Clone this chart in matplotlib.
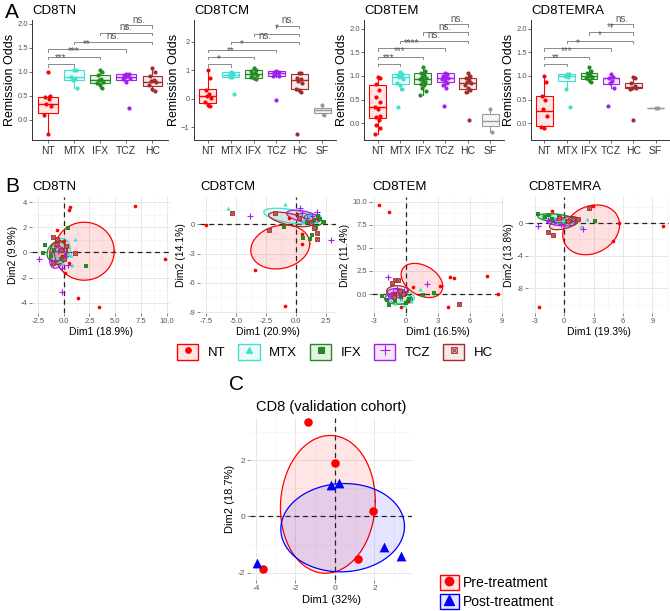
import numpy as np
import matplotlib
matplotlib.use('Agg')
import matplotlib.pyplot as plt
from matplotlib.colors import to_rgba
from matplotlib.patches import Patch
from matplotlib.lines import Line2D
from matplotlib.legend_handler import HandlerTuple
from matplotlib.ticker import MultipleLocator, FormatStrFormatter

plt.rcParams['font.family'] = ['Liberation Sans', 'DejaVu Sans']

COL = {'NT': '#FF0000', 'MTX': '#40E0D0', 'IFX': '#228B22', 'TCZ': '#A020F0',
       'HC': '#A52A2A', 'SF': '#9A9A9A'}

# ---------------- panel A data (lo, q1, med, q3, hi) ----------------
groups5 = ['NT', 'MTX', 'IFX', 'TCZ', 'HC']
groups6 = ['NT', 'MTX', 'IFX', 'TCZ', 'HC', 'SF']
pairs = [(1, 2), (1, 3), (1, 4), (2, 5), (3, 5), (4, 5)]

tn_stats = [(-0.29, 0.15, 0.33, 0.48, 0.5), (0.66, 0.84, 0.89, 1.04, 1.04),
            (0.67, 0.76, 0.83, 0.93, 1.03), (0.78, 0.84, 0.89, 0.96, 0.96),
            (0.6, 0.71, 0.79, 0.92, 1.08)]
tn_points = [[1.0, 0.5, 0.48, 0.44, 0.33, 0.29, 0.1, -0.29],
             [1.04, 1.03, 0.9, 0.85, 0.84, 0.66],
             [1.03, 0.99, 0.93, 0.86, 0.83, 0.79, 0.76, 0.72, 0.67],
             [0.96, 0.95, 0.94, 0.92, 0.9, 0.88, 0.85, 0.78, 0.25],
             [1.08, 1.0, 0.92, 0.84, 0.8, 0.78, 0.72, 0.65, 0.6]]
tn_brk = [1.16, 1.31, 1.47, 1.63, 1.81, 1.97]
tn_lab = ['***', '***', '**', 'ns.', 'ns.', 'ns.']

tcm_stats = [(-0.27, -0.13, 0.12, 0.34, 1.01), (0.76, 0.76, 0.83, 0.94, 0.95),
             (0.69, 0.74, 0.87, 1.01, 1.09), (0.78, 0.8, 0.9, 0.98, 0.98),
             (0.25, 0.34, 0.65, 0.87, 0.92), (-0.56, -0.48, -0.38, -0.3, -0.21)]
tcm_points = [[1.01, 0.72, 0.3, 0.18, 0.12, 0.05, -0.1, -0.2, -0.25],
              [0.95, 0.9, 0.83, 0.78, 0.76, 0.17],
              [1.09, 1.02, 0.97, 0.92, 0.87, 0.83, 0.78, 0.74, 0.7],
              [0.98, 0.96, 0.93, 0.9, 0.88, 0.82, 0.79, -0.04],
              [0.92, 0.9, 0.75, 0.7, 0.63, 0.55, 0.36, 0.3, 0.25, -1.23],
              [-0.21, -0.56]]
tcm_brk = [1.21, 1.48, 1.73, 2.0, 2.29, 2.57]
tcm_lab = ['*', '**', '*', 'ns.', '*', 'ns.']

tem_stats = [(-0.23, 0.11, 0.34, 0.8, 0.98), (0.71, 0.82, 0.97, 1.05, 1.08),
             (0.6, 0.84, 0.93, 1.07, 1.19), (0.74, 0.87, 0.95, 1.06, 1.06),
             (0.64, 0.73, 0.86, 0.96, 1.06), (-0.2, -0.06, 0.05, 0.2, 0.3)]
tem_points = [[0.98, 0.95, 0.84, 0.7, 0.55, 0.45, 0.34, 0.3, 0.15, 0.12, 0.06, -0.05, -0.1, -0.23],
              [1.08, 1.05, 1.02, 0.99, 0.97, 0.93, 0.86, 0.8, 0.72, 0.34],
              [1.19, 1.1, 1.06, 1.02, 0.98, 0.95, 0.93, 0.9, 0.87, 0.84, 0.8, 0.75, 0.68, 0.6],
              [1.06, 1.04, 1.0, 0.98, 0.96, 0.95, 0.93, 0.9, 0.86, 0.8, 0.74, 0.37],
              [1.06, 1.01, 0.96, 0.92, 0.88, 0.85, 0.8, 0.75, 0.7, 0.65, 0.07],
              [0.3, -0.2]]
tem_brk = [1.26, 1.41, 1.59, 1.75, 1.93, 2.1]
tem_lab = ['***', '***', '****', 'ns.', 'ns.', 'ns.']

temra_stats = [(-0.1, -0.07, 0.25, 0.57, 0.99), (0.73, 0.9, 1.0, 1.04, 1.05),
               (0.87, 0.94, 1.0, 1.06, 1.19), (0.75, 0.84, 0.95, 0.96, 1.05),
               (0.72, 0.74, 0.77, 0.86, 0.97), (0.31, 0.31, 0.31, 0.31, 0.31)]
temra_points = [[0.99, 0.88, 0.58, 0.5, 0.3, 0.15, -0.08, -0.1],
                [1.05, 1.04, 1.0, 0.98, 0.73, 0.34],
                [1.19, 1.1, 1.06, 1.03, 1.0, 0.98, 0.95, 0.91, 0.87],
                [1.05, 0.97, 0.95, 0.9, 0.85, 0.75, 0.37],
                [0.97, 0.96, 0.86, 0.78, 0.75, 0.74, 0.72, 0.06],
                [0.31, 0.31]]
temra_brk = [1.26, 1.41, 1.59, 1.75, 1.93, 2.1]
temra_lab = ['**', '***', '*', '*', '**', 'ns.']

# ---------------- panel B data: PCA individuals ----------------
tn_pca = {
    'NT': ([6.9, 9.8, 0.6, 0.55, -0.65, 0.15, 1.39, 3.46, 0.3, -0.2, 0.5, 0.0],
           [3.65, -0.5, 3.6, 3.33, 1.77, -1.6, -3.6, -4.35, 0.5, -0.3, -0.8, 0.9]),
    'MTX': ([1.1, 0.68, 0.8, -0.4, 0.2, -0.8, 0.4, -0.2], [1.07, -0.23, -0.96, 0.3, 0.6, -0.4, -0.2, -0.8]),
    'IFX': ([0.47, 2.13, -1.8, -2.0, -0.9, -0.3, 0.2, -0.6, -1.2], [1.95, -1.09, 0.6, -0.05, 0.2, -0.5, 0.4, 0.8, -0.3]),
    'TCZ': ([-2.35, 0.47, -0.15, -0.8, -0.5, 0.1, -1.0, -0.2], [-0.52, -0.96, -3.1, -0.6, 0.1, -0.3, -0.9, -1.2]),
    'HC': ([-1.06, -0.65, 0.2, 1.14, -0.98, -0.3, 0.0, -0.6], [1.25, 1.05, 0.55, -0.05, -0.83, 0.2, -0.5, 0.7]),
}
tn_ell = {'NT': (2.0, 0.1, 2.9, 2.3, 0.0), 'MTX': (-0.3, 0.1, 0.95, 1.0, 0.2),
          'IFX': (-0.65, 0.05, 0.95, 0.8, 0.2), 'TCZ': (-0.6, -0.4, 0.75, 0.85, 0.3),
          'HC': (-0.5, 0.0, 0.85, 0.95, 0.1)}

tcm_pca = {
    'NT': ([-7.47, -3.4, -0.92, 0.5, 0.44, 0.05, 1.2, 1.7, -0.6], [-0.07, -4.68, -8.43, -2.0, -1.0, 1.02, 0.3, 0.5, 0.6]),
    'MTX': ([-5.7, -0.9, 0.3, 1.0, 1.6, 1.3, 2.0, 0.6], [1.64, 2.08, 1.1, 0.6, 0.3, 1.0, 0.9, 0.4]),
    'IFX': ([0.55, 1.17, 2.28, 1.3, -1.05, 1.8, 1.5, 2.0, 0.9, 1.6], [-1.44, -1.54, 0.2, -1.1, -0.3, 0.8, 0.4, 0.5, 0.2, -0.4]),
    'TCZ': ([-3.83, 0.33, 2.9, 1.72, 0.9, 1.3, 0.5], [0.85, 1.64, -1.6, 1.23, 0.6, 0.9, 1.2]),
    'HC': ([-5.36, -2.25, 1.72, 1.72, -1.75, 1.5, 1.2, 0.2], [1.19, -0.58, -0.92, -1.54, 1.19, -0.4, 0.1, 0.6]),
}
tcm_ell = {'NT': (-1.33, -2.33, 2.45, 2.25, 0.15), 'MTX': (-0.6, 0.85, 2.1, 0.8, -0.5),
           'IFX': (1.4, 0.45, 0.75, 0.6, -0.3), 'TCZ': (0.6, 0.8, 1.4, 0.65, -0.5),
           'HC': (-0.5, 0.5, 1.8, 0.75, -0.6)}

tem_pca = {
    'NT': ([-2.48, -1.6, 4.11, 4.51, 7.59, 8.59, 3.99, 0.62, 3.24, -0.44, -1.0, -0.5, 0.2],
           [9.6, 8.88, 1.87, 1.69, 1.98, 0.0, -1.37, 0.72, 0.86, -1.44, 0.1, -0.4, -0.8]),
    'MTX': ([1.3, 2.6, -0.5, -1.0, 0.2, -0.2, 0.5, -1.3], [0.6, 0.14, -0.5, -1.0, -0.3, -1.2, -0.7, -0.2]),
    'IFX': ([2.65, 1.6, -2.2, -1.56, -1.0, -0.5, 0.3, -1.8, 0.0], [0.14, -0.1, -0.18, -1.19, -0.8, -0.3, -0.5, -0.6, -1.0]),
    'TCZ': ([-1.68, 2.0, -1.7, -1.2, -0.8, -0.5, -1.4, -0.2], [1.8, 1.08, -0.4, 0.2, 0.5, 0.0, -0.2, 0.3]),
    'HC': ([-1.0, -0.7, -1.28, 4.98, -0.3, -1.1, -0.6], [1.5, 1.55, 1.15, -1.08, 0.0, -0.3, 0.3]),
}
tem_ell = {'NT': (1.5, 1.47, 1.95, 1.85, -0.35), 'MTX': (-0.4, -0.4, 1.2, 0.7, 0.0),
           'IFX': (-0.7, -0.5, 1.3, 0.6, 0.0), 'TCZ': (-0.9, 0.1, 0.9, 0.5, 0.0),
           'HC': (-0.8, 0.35, 1.0, 0.55, 0.0)}

temra_pca = {
    'NT': ([10.04, 5.58, 5.0, 2.9, -2.55, -1.29, 0.5, -0.5], [-0.33, 0.07, -2.13, 2.1, -10.3, 1.5, 0.3, 0.9]),
    'MTX': ([2.28, 1.71, -2.0, -1.0, 0.0, -1.5, 0.5], [0.49, -0.41, 0.9, 0.6, 0.4, 1.1, 0.2]),
    'IFX': ([3.13, -2.65, -2.0, -1.2, -0.5, 0.3, -1.6], [0.28, 1.1, 0.8, 0.5, 0.7, 0.3, 1.0]),
    'TCZ': ([-2.65, 1.94, -1.0, -0.3, 0.5, -1.7], [-0.41, -0.73, 0.2, -0.1, 0.1, 0.4]),
    'HC': ([2.55, 1.37, -1.63, -1.12, 0.9, 0.4, -0.5], [1.84, 0.53, -1.03, -1.43, 0.5, 0.3, 0.6]),
}
temra_ell = {'NT': (2.75, -0.82, 2.9, 3.05, 0.2), 'MTX': (-0.5, 0.5, 1.8, 0.6, -0.4),
             'IFX': (-0.8, 0.6, 1.9, 0.55, -0.4), 'TCZ': (-0.3, 0.1, 1.5, 0.45, -0.3),
             'HC': (0.0, 0.0, 1.5, 0.8, 0.5)}

# ---------------- panel C data ----------------
pre_x = [-3.64, -1.37, 0.0, 1.91, 1.18]
pre_y = [-1.88, 3.35, 1.9, 0.21, -1.52]
post_x = [-3.97, -0.22, 0.22, 2.5, 3.32]
post_y = [-1.66, 1.13, 1.19, -1.09, -1.40]
pre_ell = (-0.36, 0.43, 2.4, 2.45, 0.05)
post_ell = (0.39, -0.4, 3.13, 1.57, 0.03)

W, H = 670, 611
fig = plt.figure(figsize=(6.7, 6.11), dpi=100)


def px_axes(l, t, r, b):
    return fig.add_axes([l / W, 1 - b / H, (r - l) / W, (b - t) / H])


JIT = np.tile([0.0, 0.09, -0.09, 0.05, -0.05, 0.13, -0.13], 3)


def box_panel(ax, title, groups, stats, points, ylim, ymaj, brk, lab, fmt=None):
    pos = np.arange(1, len(groups) + 1)
    for k, g in enumerate(groups):
        lo, q1, med, q3, hi = stats[k]
        c = COL[g]
        ax.bxp([dict(med=med, q1=q1, q3=q3, whislo=lo, whishi=hi)], positions=[pos[k]],
               widths=0.75, showfliers=False, showcaps=False, patch_artist=True,
               manage_ticks=False,
               boxprops=dict(facecolor=to_rgba(c, 0.1), edgecolor=c, lw=0.8),
               medianprops=dict(color=c, lw=1.0), whiskerprops=dict(color=c, lw=0.8))
        v = np.array(points[k])
        ax.scatter(pos[k] + JIT[:len(v)], v, s=9, color=c, lw=0, zorder=3)
    rng = ylim[1] - ylim[0]
    for (i, j), h, t in zip(pairs, brk, lab):
        ax.plot([i, i, j, j], [h - 0.02 * rng, h, h, h - 0.02 * rng], color='#8a8a8a', lw=0.7)
        ax.text((i + j) / 2, h + 0.005 * rng, t, ha='center', va='bottom', fontsize=7, color='#555555')
    ax.set_xlim(0.4, len(groups) + 0.6)
    ax.set_ylim(*ylim)
    ax.yaxis.set_major_locator(MultipleLocator(ymaj))
    if fmt:
        ax.yaxis.set_major_formatter(FormatStrFormatter(fmt))
    ax.set_xticks(pos)
    ax.set_xticklabels(groups, fontsize=7.5, color='#333333')
    ax.tick_params(axis='y', labelsize=5.5, labelcolor='#555555', length=2, width=0.6,
                   color='#555555', pad=1)
    ax.tick_params(axis='x', length=2, width=0.6, color='#555555', pad=2)
    for s in ['top', 'right']:
        ax.spines[s].set_visible(False)
    for s in ['left', 'bottom']:
        ax.spines[s].set_color('#333333')
        ax.spines[s].set_linewidth(0.7)
    ax.set_title(title, loc='left', fontsize=9.5, pad=4)
    ax.set_ylabel('Remission Odds', fontsize=9, labelpad=1)


a1 = px_axes(32, 20, 168, 140)
box_panel(a1, 'CD8TN', groups5, tn_stats, tn_points, (-0.42, 2.08), 0.5, tn_brk, tn_lab, '%.1f')
a2 = px_axes(194, 20, 336, 140)
box_panel(a2, 'CD8TCM', groups6, tcm_stats, tcm_points, (-1.44, 2.77), 1, tcm_brk, tcm_lab)
a3 = px_axes(364, 20, 504, 140)
box_panel(a3, 'CD8TEM', groups6, tem_stats, tem_points, (-0.36, 2.19), 0.5, tem_brk, tem_lab, '%.1f')
a4 = px_axes(531, 20, 669, 140)
box_panel(a4, 'CD8TEMRA', groups6, temra_stats, temra_points, (-0.36, 2.19), 0.5, temra_brk, temra_lab, '%.1f')


def ellipse_xy(cx, cy, sx, sy, rho):
    t = np.linspace(0, 2 * np.pi, 200)
    return cx + sx * np.cos(t), cy + sy * (rho * np.cos(t) + np.sqrt(1 - rho ** 2) * np.sin(t))


def draw_marker(ax, x, y, g, s):
    c = COL[g]
    if g == 'NT':
        ax.scatter(x, y, s=s, color=c, marker='o', lw=0, zorder=3)
    elif g == 'MTX':
        ax.scatter(x, y, s=s * 1.3, color=c, marker='^', lw=0, zorder=3)
    elif g == 'IFX':
        ax.scatter(x, y, s=s, color=c, marker='s', lw=0, zorder=3)
    elif g == 'TCZ':
        ax.scatter(x, y, s=s * 3, color=c, marker='+', lw=0.8, zorder=3)
    else:
        ax.scatter(x, y, s=s * 1.4, facecolor='#dba5a5', edgecolor=c, marker='s', lw=0.6, zorder=3)
        ax.scatter(x, y, s=s * 0.8, color=c, marker='x', lw=0.6, zorder=3)


def style_grid(ax, xlim, ylim, xmaj, ymaj, fmtx=None, fmty=None):
    ax.set_xlim(*xlim)
    ax.set_ylim(*ylim)
    ax.xaxis.set_major_locator(MultipleLocator(xmaj))
    ax.xaxis.set_minor_locator(MultipleLocator(xmaj / 2))
    ax.yaxis.set_major_locator(MultipleLocator(ymaj))
    ax.yaxis.set_minor_locator(MultipleLocator(ymaj / 2))
    if fmtx:
        ax.xaxis.set_major_formatter(FormatStrFormatter(fmtx))
    if fmty:
        ax.yaxis.set_major_formatter(FormatStrFormatter(fmty))
    ax.grid(which='major', color='#E4E4E4', lw=0.6)
    ax.grid(which='minor', color='#F2F2F2', lw=0.4)
    ax.set_axisbelow(True)
    for s in ax.spines.values():
        s.set_visible(False)
    ax.tick_params(which='major', labelsize=5.5, labelcolor='#555555', length=2, width=0.5,
                   color='#555555', pad=1.5)
    ax.tick_params(which='minor', length=0)
    ax.axhline(0, color='#222222', ls=(0, (4, 3)), lw=0.9, zorder=2)
    ax.axvline(0, color='#222222', ls=(0, (4, 3)), lw=0.9, zorder=2)


def pca_panel(ax, title, pca, ell, xlab, ylab):
    for g in groups5:
        cx, cy, sx, sy, rho = ell[g]
        ex, ey = ellipse_xy(cx, cy, sx, sy, rho)
        ax.fill(ex, ey, color=COL[g], alpha=0.12, lw=0, zorder=2)
        ax.plot(ex, ey, color=COL[g], lw=0.9, zorder=2)
    for g in groups5:
        x, y = pca[g]
        draw_marker(ax, x, y, g, 7)
    ax.set_title(title, loc='left', fontsize=9.5, pad=5)
    ax.set_xlabel(xlab, fontsize=7.5, labelpad=1.5)
    ax.set_ylabel(ylab, fontsize=7.5, labelpad=1.5)


b1 = px_axes(32, 197, 170, 313)
style_grid(b1, (-3.06, 10.3), (-4.8, 4.4), 2.5, 2, fmtx='%.1f', fmty='%d')
pca_panel(b1, 'CD8TN', tn_pca, tn_ell, 'Dim1 (18.9%)', 'Dim2 (9.9%)')
b2 = px_axes(200, 197, 336, 313)
style_grid(b2, (-8.0, 3.3), (-9.1, 2.8), 2.5, 3, fmtx='%.1f', fmty='%d')
pca_panel(b2, 'CD8TCM', tcm_pca, tcm_ell, 'Dim1 (20.9%)', 'Dim2 (14.1%)')
b3 = px_axes(372, 197, 503, 313)
style_grid(b3, (-3.18, 9.1), (-2.05, 10.5), 3, 2.5, fmtx='%d', fmty='%.1f')
pca_panel(b3, 'CD8TEM', tem_pca, tem_ell, 'Dim1 (16.5%)', 'Dim2 (11.4%)')
b4 = px_axes(528, 197, 669, 313)
style_grid(b4, (-3.7, 10.7), (-11.0, 3.2), 3, 4, fmtx='%d', fmty='%d')
pca_panel(b4, 'CD8TEMRA', temra_pca, temra_ell, 'Dim1 (19.3%)', 'Dim2 (13.8%)')

# legend for panel B
handles = []
for g in groups5:
    c = COL[g]
    box = Patch(facecolor=to_rgba(c, 0.1), edgecolor=c, lw=1.0)
    if g == 'HC':
        handles.append((box, Line2D([], [], ls='', marker='s', ms=4, mfc='#dba5a5', mec=c, mew=0.6),
                        Line2D([], [], ls='', marker='x', ms=3, color=c, mew=0.6)))
    else:
        mk = {'NT': 'o', 'MTX': '^', 'IFX': 's', 'TCZ': '+'}[g]
        handles.append((box, Line2D([], [], ls='', marker=mk, ms=4 if g != 'TCZ' else 7,
                                    color=c, mew=0.8)))
fig.legend(handles, groups5, loc='center', bbox_to_anchor=(335 / W, 1 - 352 / H), ncol=5,
           frameon=False, fontsize=9.5, handlelength=1.6, handleheight=1.6,
           handletextpad=0.7, columnspacing=1.0,
           handler_map={tuple: HandlerTuple(ndivide=1, pad=0)})

# ---------------- panel C ----------------
c_ax = px_axes(250, 418, 412, 580)
style_grid(c_ax, (-4.3, 3.9), (-2.26, 3.5), 2, 2, fmtx='%d', fmty='%d')
for (cx, cy, sx, sy, rho), col in [(pre_ell, '#FF0000'), (post_ell, '#0000FF')]:
    ex, ey = ellipse_xy(cx, cy, sx, sy, rho)
    c_ax.fill(ex, ey, color=col, alpha=0.1, lw=0, zorder=2)
    c_ax.plot(ex, ey, color=col, lw=0.9, zorder=2)
c_ax.scatter(pre_x, pre_y, s=38, color='#FF0000', marker='o', lw=0, zorder=3)
c_ax.scatter(post_x, post_y, s=50, color='#0000FF', marker='^', lw=0, zorder=3)
c_ax.set_title('CD8 (validation cohort)', fontsize=10.5, pad=5)
c_ax.set_xlabel('Dim1 (32%)', fontsize=8, labelpad=2)
c_ax.set_ylabel('Dim2 (18.7%)', fontsize=8, labelpad=2)
c_ax.tick_params(which='major', labelsize=6)

c_handles = [(Patch(facecolor=to_rgba('#FF0000', 0.1), edgecolor='#FF0000', lw=1.0),
              Line2D([], [], ls='', marker='o', ms=6, color='#FF0000')),
             (Patch(facecolor=to_rgba('#0000FF', 0.1), edgecolor='#0000FF', lw=1.0),
              Line2D([], [], ls='', marker='^', ms=6.5, color='#0000FF'))]
fig.legend(c_handles, ['Pre-treatment', 'Post-treatment'], loc='center left',
           bbox_to_anchor=(427 / W, 1 - 592 / H), frameon=False, fontsize=10,
           handlelength=1.4, handleheight=1.3, handletextpad=0.3, labelspacing=0.25,
           handler_map={tuple: HandlerTuple(ndivide=1, pad=0)})

# panel letters
fig.text(5 / W, 1 - 12 / H, 'A', fontsize=15, va='center', ha='left')
fig.text(5 / W, 1 - 186 / H, 'B', fontsize=15, va='center', ha='left')
fig.text(229 / W, 1 - 384 / H, 'C', fontsize=15, va='center', ha='left')

fig.savefig('out.png', dpi=100)
